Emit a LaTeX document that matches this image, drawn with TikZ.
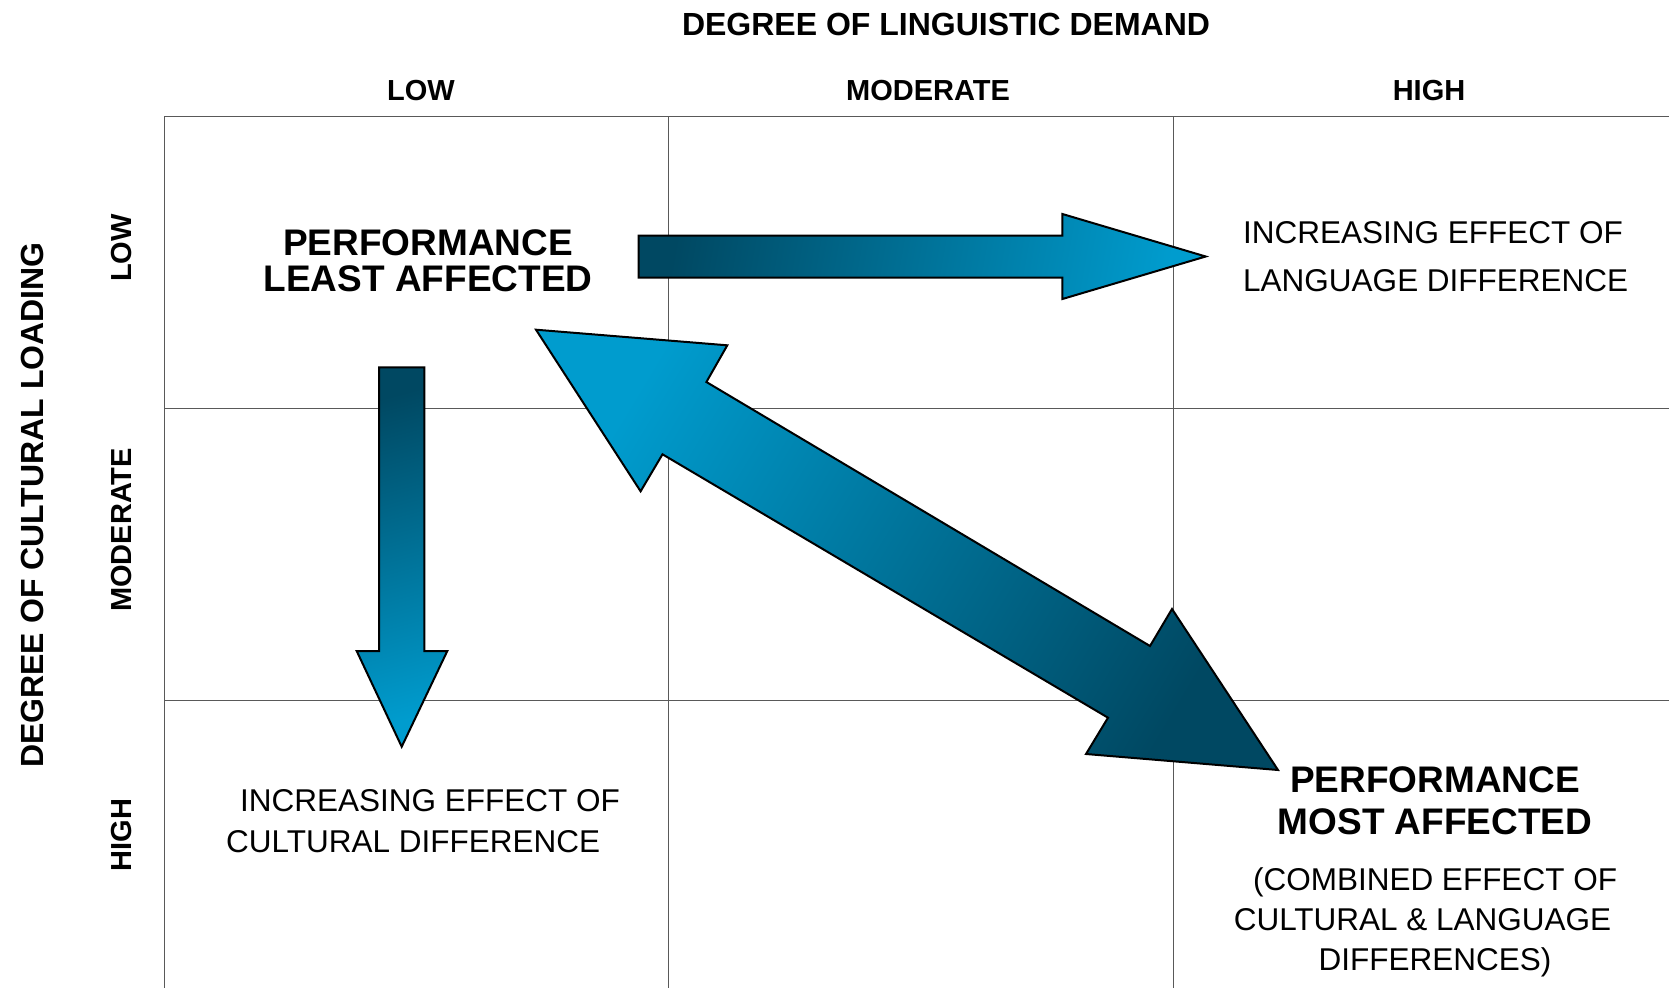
\documentclass[tikz,border=0pt]{standalone}
\usepackage{fontspec}
\setmainfont{Liberation Sans}
\definecolor{teallight}{RGB}{0,156,206}
\definecolor{tealdark}{RGB}{0,72,98}
\begin{document}
\begin{tikzpicture}[x=1pt,y=-1pt,
  gridline/.style={draw=black!65,line width=1pt},
  blockarrow/.style={draw=black,line width=2pt,line join=miter,top color=teallight,bottom color=tealdark},
  axistitle/.style={font=\fontsize{32}{36}\bfseries,inner sep=0pt,anchor=base},
  levellabel/.style={font=\fontsize{29}{33}\bfseries,inner sep=0pt,anchor=base},
  boldnote/.style={font=\fontsize{37}{#1}\bfseries,align=center,inner sep=0pt,anchor=base},
  note/.style={font=\fontsize{31.5}{#1}\selectfont,inner sep=0pt,anchor=base}]
\useasboundingbox[fill=white] (0,0) rectangle (1669,988);

% grid
\foreach \y in {116,408,700}
	\draw[gridline] (164,\y) -- (1669,\y);
\foreach \x in {164,668,1173}
	\draw[gridline] (\x,116) -- (\x,988);

% axis titles and levels
\node[axistitle] (demand) at (946,35) {DEGREE OF LINGUISTIC DEMAND};
\node[axistitle,rotate=90] (loading) at (43,505) {DEGREE OF CULTURAL LOADING};
\node[levellabel] (colLow) at (421,100) {LOW};
\node[levellabel] (colMod) at (928,100) {MODERATE};
\node[levellabel] (colHigh) at (1429,100) {HIGH};
\node[levellabel,rotate=90] (rowLow) at (131,248) {LOW};
\node[levellabel,rotate=90] (rowMod) at (131,530) {MODERATE};
\node[levellabel,rotate=90] (rowHigh) at (131,835) {HIGH};

% arrows
\path[blockarrow,shading angle=-100] (638.7,235.5) -- (1062.4,235.5) -- (1062.4,214) -- (1205.7,256.5)
	-- (1062.4,299) -- (1062.4,277.5) -- (638.7,277.5) -- cycle;
\path[blockarrow,shading angle=-165] (379,367.3) -- (424.3,367.3) -- (424.3,651) -- (447.3,651)
	-- (401.7,746.7) -- (356.7,651) -- (379,651) -- cycle;
\path[blockarrow,shading angle=59] (536,329.7) -- (727.3,345.3) -- (706.4,382) -- (1150,646) -- (1172,609)
	-- (1278,770) -- (1086,754) -- (1108,717.7) -- (662.5,454.3) -- (640.6,491.3) -- cycle;

% cell texts (base = last line)
\node[boldnote=36.7] (least) at (428,291.7) {PERFORMANCE\\LEAST AFFECTED};
\node[note=48,align=left,anchor=base west] (langEffect) at (1243,291.7) {INCREASING EFFECT OF\\LANGUAGE DIFFERENCE};
\node[note=41,align=left,anchor=base west] (cultEffect) at (226,852.7) {\hspace*{14pt}INCREASING EFFECT OF\\CULTURAL DIFFERENCE};
\node[boldnote=42] (most) at (1435,834.3) {PERFORMANCE\\MOST AFFECTED};
\node[note=40,align=center] (combined) at (1435,970) {(COMBINED EFFECT OF\\\makebox[0pt]{\hspace*{-25pt}CULTURAL \& LANGUAGE}\\DIFFERENCES)};
\end{tikzpicture}
\end{document}
